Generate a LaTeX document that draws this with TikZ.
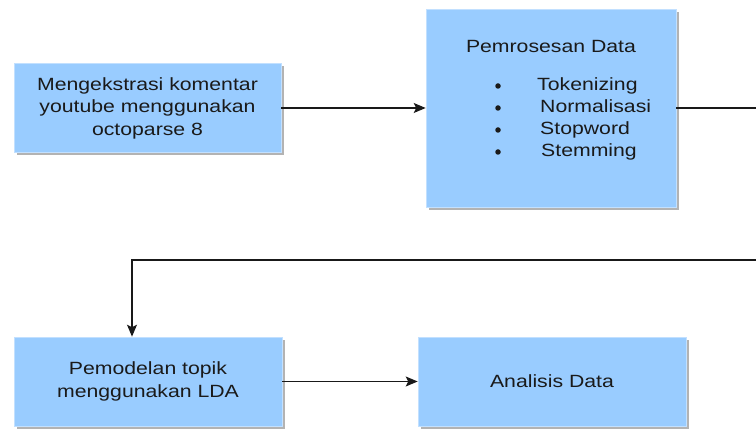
\documentclass[tikz,border=0pt]{standalone}
\usepackage{fontspec}
\setmainfont{Liberation Sans}[FakeStretch=1.2]
\usetikzlibrary{arrows.meta,shadows}
\definecolor{boxblue}{HTML}{99CCFF}
\definecolor{shadowgray}{HTML}{B3B3B3}
\definecolor{txt}{HTML}{1A1A1A}
\begin{document}
\begin{tikzpicture}[x=1pt,y=-1pt,
  font=\fontsize{17.7pt}{22.5pt}\selectfont,
  box/.style={fill=boxblue, draw=boxblue!60!white, line width=0.6pt, inner sep=0pt,
    text=txt, align=center,
    general shadow={fill=shadowgray, shadow xshift=3pt, shadow yshift=-3pt}},
  lbl/.style={inner sep=0pt, text=txt},
  dot/.style={circle, fill=txt, inner sep=0pt, minimum size=5.5pt},
  conn/.style={line width=1.2pt, draw=black!90},
  arr/.style={conn, -{Stealth[length=12pt,width=10pt,inset=2.5pt]}}]
\useasboundingbox (0,0) rectangle (756,430);
% boxes
\node[box, minimum width=267pt, minimum height=89pt] (b1) at (147.5,108)
  {Mengekstrasi komentar\\youtube menggunakan\\octoparse 8};
\node[box, minimum width=250pt, minimum height=198pt] (b2) at (551,108) {};
\node[box, minimum width=268pt, minimum height=89pt] (b3) at (148,381.5)
  {Pemodelan topik\\menggunakan LDA};
\node[box, minimum width=268pt, minimum height=89pt] (b4) at (552,381.5)
  {Analisis Data};
% box 2 contents
\node[lbl, anchor=base] (t2) at (551,53) {Pemrosesan Data};
\node[dot] (d1) at (498,86) {};
\node[dot] (d2) at (498,108) {};
\node[dot] (d3) at (498,130) {};
\node[dot] (d4) at (498,152) {};
\node[lbl, anchor=base west] (i1) at (537,91) {Tokenizing};
\node[lbl, anchor=base west] (i2) at (540,113) {Normalisasi};
\node[lbl, anchor=base west] (i3) at (540,135) {Stopword};
\node[lbl, anchor=base west] (i4) at (541,157) {Stemming};
% connectors
\coordinate (r1) at (760,108);
\coordinate (r2) at (760,260);
\coordinate (l2) at (132,260);
\draw[arr] (b1.east) -- (b2.west);
\draw[arr] (b2.east) -- (r1) -- (r2) -- (l2) -- (l2 |- b3.north);
\draw[arr] (b3.east) -- (b4.west);
\end{tikzpicture}
\end{document}
